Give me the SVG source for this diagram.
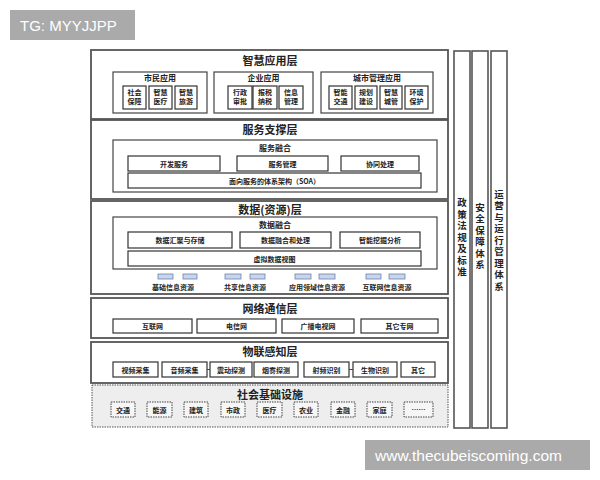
<svg xmlns="http://www.w3.org/2000/svg" width="600" height="480" viewBox="0 0 600 480">
<style>
.layer{fill:#fff;stroke:#555;stroke-width:1.8}
.sub{fill:#fff;stroke:#444;stroke-width:1.2}
.box{fill:#fff;stroke:#333;stroke-width:1.2}
.dot{fill:#eee;stroke:#555;stroke-width:1;stroke-dasharray:1.5 1}
.dbox{fill:#f6f6f6;stroke:#444;stroke-width:1;stroke-dasharray:1.5 1}
.db{fill:#c9d5ec;stroke:#6d82ad;stroke-width:0.8}
.bar{fill:#fff;stroke:#555;stroke-width:1.6}
text{font-family:"Liberation Serif","Noto Sans CJK SC",serif;fill:#222;text-anchor:middle}
.t{font-family:"Noto Sans CJK SC",sans-serif;font-size:11px;font-weight:bold}
.s{font-family:"Noto Sans CJK SC",sans-serif;font-size:8px;font-weight:bold}
.n{font-family:"Noto Sans CJK SC",serif;font-size:7px;font-weight:bold}
.v{font-family:"Noto Sans CJK SC",sans-serif;font-size:9.5px;font-weight:bold;writing-mode:vertical-rl;letter-spacing:2px}
.wm{font-family:"Liberation Sans",sans-serif;fill:#fff;text-anchor:start}
</style>
<rect width="600" height="480" fill="#fff"/>

<g id="app-layer">
<rect class="layer" x="91" y="50" width="357" height="69"/>
<text class="t" x="270" y="65">智慧应用层</text>
<g id="citizen-app">
<rect class="sub" x="113" y="72" width="94" height="41"/>
<text class="s" x="160" y="81">市民应用</text>
<rect class="box" x="123" y="86" width="23" height="23"/><text class="n" x="134.5" y="95">社会</text><text class="n" x="134.5" y="104">保障</text>
<rect class="box" x="149" y="86" width="23" height="23"/><text class="n" x="160.5" y="95">智慧</text><text class="n" x="160.5" y="104">医疗</text>
<rect class="box" x="175" y="86" width="22" height="23"/><text class="n" x="186" y="95">智慧</text><text class="n" x="186" y="104">旅游</text>
</g>
<g id="enterprise-app">
<rect class="sub" x="214" y="72" width="99" height="41"/>
<text class="s" x="263.5" y="81">企业应用</text>
<rect class="box" x="228" y="86" width="24" height="23"/><text class="n" x="240" y="95">行政</text><text class="n" x="240" y="104">审批</text>
<rect class="box" x="253" y="86" width="24" height="23"/><text class="n" x="265" y="95">报税</text><text class="n" x="265" y="104">纳税</text>
<rect class="box" x="279" y="86" width="24" height="23"/><text class="n" x="291" y="95">信息</text><text class="n" x="291" y="104">管理</text>
</g>
<g id="city-app">
<rect class="sub" x="321" y="72" width="112" height="41"/>
<text class="s" x="377" y="81">城市管理应用</text>
<rect class="box" x="329" y="86" width="23" height="23"/><text class="n" x="340.5" y="95">智能</text><text class="n" x="340.5" y="104">交通</text>
<rect class="box" x="355" y="86" width="22" height="23"/><text class="n" x="366" y="95">规划</text><text class="n" x="366" y="104">建设</text>
<rect class="box" x="380" y="86" width="22" height="23"/><text class="n" x="391" y="95">智慧</text><text class="n" x="391" y="104">城管</text>
<rect class="box" x="405" y="86" width="23" height="23"/><text class="n" x="416.5" y="95">环境</text><text class="n" x="416.5" y="104">保护</text>
</g>
</g>

<g id="service-layer">
<rect class="layer" x="91" y="120" width="357" height="79"/>
<text class="t" x="270" y="134">服务支撑层</text>
<rect class="sub" x="113" y="140" width="324" height="52"/>
<text class="s" x="275" y="151">服务融合</text>
<rect class="box" x="128" y="156" width="92" height="15"/><text class="n" x="174" y="166.5">开发服务</text>
<rect class="box" x="237" y="156" width="91" height="15"/><text class="n" x="282.5" y="166.5">服务管理</text>
<rect class="box" x="341" y="156" width="78" height="15"/><text class="n" x="380" y="166.5">协同处理</text>
<rect class="box" x="128" y="173" width="293" height="15"/><text class="n" x="274.5" y="183.5">面向服务的体系架构（SOA）</text>
</g>

<g id="data-layer">
<rect class="layer" x="91" y="201" width="357" height="93"/>
<text class="t" x="270" y="214">数据(资源)层</text>
<rect class="sub" x="113" y="217" width="324" height="52"/>
<text class="s" x="275" y="228">数据融合</text>
<rect class="box" x="128" y="232" width="104" height="16"/><text class="n" x="180" y="243">数据汇聚与存储</text>
<rect class="box" x="240" y="232" width="91" height="16"/><text class="n" x="285.5" y="243">数据融合和处理</text>
<rect class="box" x="340" y="232" width="80" height="16"/><text class="n" x="380" y="243">智能挖掘分析</text>
<rect class="box" x="128" y="251" width="293" height="15"/><text class="n" x="274.5" y="261.5">虚拟数据视图</text>
<rect class="db" x="158" y="274" width="15" height="5"/><rect class="db" x="183" y="274" width="14" height="5"/>
<rect class="db" x="225" y="274" width="16" height="5"/><rect class="db" x="250" y="274" width="15" height="5"/>
<rect class="db" x="295" y="274" width="16" height="5"/><rect class="db" x="319" y="274" width="16" height="5"/>
<rect class="db" x="366" y="274" width="15" height="5"/><rect class="db" x="389" y="274" width="16" height="5"/>
<text class="n" x="173" y="290">基础信息资源</text>
<text class="n" x="245" y="290">共享信息资源</text>
<text class="n" x="317" y="290">应用领域信息资源</text>
<text class="n" x="387" y="290">互联网信息资源</text>
</g>

<g id="network-layer">
<rect class="layer" x="91" y="298" width="357" height="40"/>
<text class="t" x="270" y="313">网络通信层</text>
<rect class="box" x="113" y="319" width="79" height="14"/><text class="n" x="152.5" y="329">互联网</text>
<rect class="box" x="197" y="319" width="79" height="14"/><text class="n" x="236.5" y="329">电信网</text>
<rect class="box" x="282" y="319" width="72" height="14"/><text class="n" x="318" y="329">广播电视网</text>
<rect class="box" x="361" y="319" width="77" height="14"/><text class="n" x="399.5" y="329">其它专网</text>
</g>

<g id="iot-layer">
<rect class="layer" x="91" y="342" width="357" height="41"/>
<text class="t" x="270" y="356">物联感知层</text>
<rect class="box" x="113" y="362" width="45" height="15"/><text class="n" x="135.5" y="372.5">视频采集</text>
<rect class="box" x="162" y="362" width="45" height="15"/><text class="n" x="184.5" y="372.5">音频采集</text>
<rect class="box" x="210" y="362" width="42" height="15"/><text class="n" x="231" y="372.5">震动探测</text>
<rect class="box" x="254" y="362" width="44" height="15"/><text class="n" x="276" y="372.5">烟雾探测</text>
<rect class="box" x="304" y="362" width="45" height="15"/><text class="n" x="326.5" y="372.5">射频识别</text>
<rect class="box" x="353" y="362" width="44" height="15"/><text class="n" x="375" y="372.5">生物识别</text>
<rect class="box" x="401" y="362" width="34" height="15"/><text class="n" x="418" y="372.5">其它</text>
</g>

<g id="infra-layer">
<rect class="dot" x="92" y="385" width="356" height="42"/>
<text class="t" x="270" y="399">社会基础设施</text>
<rect class="dbox" x="111" y="402" width="24" height="15"/><text class="n" x="123" y="412.5">交通</text>
<rect class="dbox" x="147" y="402" width="25" height="15"/><text class="n" x="159.5" y="412.5">能源</text>
<rect class="dbox" x="184" y="402" width="24" height="15"/><text class="n" x="196" y="412.5">建筑</text>
<rect class="dbox" x="221" y="402" width="24" height="15"/><text class="n" x="233" y="412.5">市政</text>
<rect class="dbox" x="257" y="402" width="25" height="15"/><text class="n" x="269.5" y="412.5">医疗</text>
<rect class="dbox" x="294" y="402" width="24" height="15"/><text class="n" x="306" y="412.5">农业</text>
<rect class="dbox" x="331" y="402" width="24" height="15"/><text class="n" x="343" y="412.5">金融</text>
<rect class="dbox" x="367" y="402" width="25" height="15"/><text class="n" x="379.5" y="412.5">家庭</text>
<rect class="dbox" x="404" y="402" width="29" height="15"/><text class="n" x="418.5" y="412">……</text>
</g>

<g id="policy-bar">
<rect class="bar" x="454" y="51" width="16" height="377"/>
<text class="v" x="462" y="238">政策法规及标准</text>
</g>
<g id="security-bar">
<rect class="bar" x="472" y="51" width="16" height="377"/>
<text class="v" x="480" y="237">安全保障体系</text>
</g>
<g id="ops-bar">
<rect class="bar" x="491" y="51" width="16" height="377"/>
<text class="v" x="499" y="241">运营与运行管理体系</text>
</g>

<g id="connectors" stroke="#444" stroke-width="1">
<line x1="207" y1="369.5" x2="210" y2="369.5"/>
<line x1="349" y1="369.5" x2="353" y2="369.5"/>
</g>

<g id="watermarks">
<rect x="10" y="10" width="125" height="30" fill="#aaa"/>
<text class="wm" x="20" y="31" font-size="15">TG: MYYJJPP</text>
<rect x="365" y="440" width="225" height="30" fill="#aaa"/>
<text class="wm" x="375" y="461" font-size="15.5">www.thecubeiscoming.com</text>
</g>
</svg>
